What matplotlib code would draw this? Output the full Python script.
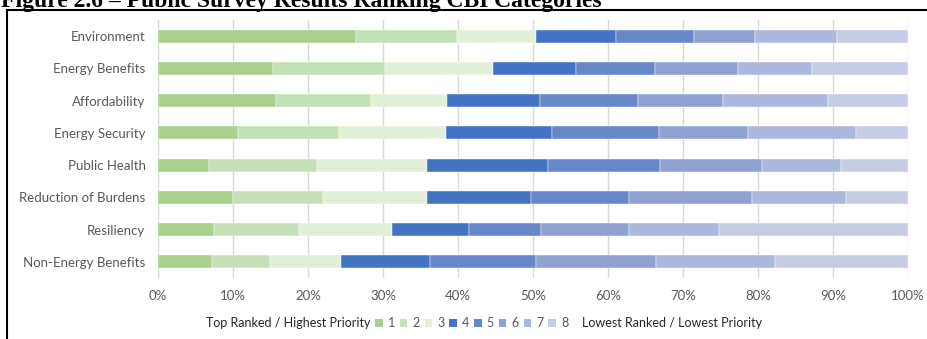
import numpy as np
import matplotlib.pyplot as plt
from matplotlib.patches import Patch, Rectangle

# Share of respondents (%) giving each rank 1..8 to each category
categories = ['Environment', 'Energy Benefits', 'Affordability', 'Energy Security',
              'Public Health', 'Reduction of Burdens', 'Resiliency', 'Non-Energy Benefits']
environment = [26.4, 13.5, 10.5, 10.6, 10.5, 8.1, 10.9, 9.5]
energy_benefits = [15.3, 14.9, 14.4, 11.1, 10.6, 11.0, 9.9, 12.8]
affordability = [15.7, 12.7, 10.2, 12.3, 13.1, 11.3, 14.0, 10.7]
energy_security = [10.7, 13.4, 14.3, 14.1, 14.3, 11.9, 14.4, 6.9]
public_health = [6.8, 14.4, 14.7, 16.1, 14.9, 13.6, 10.5, 9.0]
reduction_of_burdens = [10.0, 12.0, 13.9, 13.8, 13.1, 16.4, 12.5, 8.3]
resiliency = [7.5, 11.3, 12.4, 10.3, 9.6, 11.7, 12.0, 25.2]
non_energy_benefits = [7.2, 7.7, 9.5, 11.9, 14.1, 16.0, 15.8, 17.8]
ranks = ['1', '2', '3', '4', '5', '6', '7', '8']
xticks = [0, 10, 20, 30, 40, 50, 60, 70, 80, 90, 100]

colors = ['#A9D18E', '#C5E0B4', '#E2F0D9', '#4472C4',
          '#6787CB', '#8EA2D4', '#ADB8DE', '#C5CCE4']
grey = '#595959'

shares = np.array([environment, energy_benefits, affordability, energy_security,
                   public_health, reduction_of_burdens, resiliency, non_energy_benefits])

plt.rcParams['font.family'] = ['Lato', 'DejaVu Sans']

W, H = 927, 339
fig = plt.figure(figsize=(W / 100, H / 100), dpi=100)
ax = fig.add_axes([158 / W, 1 - 278 / H, 750 / W, 258 / H])

y = np.arange(len(categories))
left = np.zeros(len(categories))
for i in range(len(ranks)):
    ax.barh(y, shares[:, i], left=left, height=0.4, color=colors[i],
            edgecolor='white', linewidth=0.3, zorder=3)
    left += shares[:, i]

ax.set_ylim(len(categories) - 0.5, -0.5)
ax.set_xlim(0, 100)
ax.set_yticks(y)
ax.set_yticklabels(categories, fontsize=9.5, color=grey)
ax.set_xticks(xticks)
ax.set_xticklabels([f'{t}%' for t in xticks], fontsize=9.5, color=grey)
ax.tick_params(length=0, pad=9)
ax.grid(axis='x', color='#D9D9D9', linewidth=1, zorder=0)
for s in ['top', 'right', 'bottom']:
    ax.spines[s].set_visible(False)
ax.spines['left'].set_color('#D9D9D9')

# legend: rank swatches between the two end labels
handles = [Patch(facecolor=c, edgecolor='none') for c in colors]
fig.legend(handles, ranks, loc='center left', bbox_to_anchor=(375 / W, 1 - 323 / H),
           ncol=8, frameon=False, fontsize=9, handlelength=0.6, handleheight=0.6,
           handletextpad=0.4, columnspacing=0.4, borderpad=0, borderaxespad=0,
           labelcolor=grey)
fig.text(370 / W, 1 - 323 / H, 'Top Ranked / Highest Priority', ha='right', va='center',
         fontsize=9, color='#262626')
fig.text(582 / W, 1 - 323 / H, 'Lowest Ranked / Lowest Priority', ha='left', va='center',
         fontsize=9, color='#262626')

# chart frame and report caption
fig.patches.append(Rectangle((7 / W, -0.2), 1.2, 1.2 - 10 / H, transform=fig.transFigure,
                             fill=False, edgecolor='black', linewidth=1.5))
fig.text(1 / W, 1 - 7 / H, 'Figure 2.6 \u2013 Public Survey Results Ranking CBI Categories',
         ha='left', va='baseline', fontsize=17, fontweight='bold',
         family=['Liberation Serif', 'DejaVu Serif'])

fig.savefig('out.png', dpi=100)
